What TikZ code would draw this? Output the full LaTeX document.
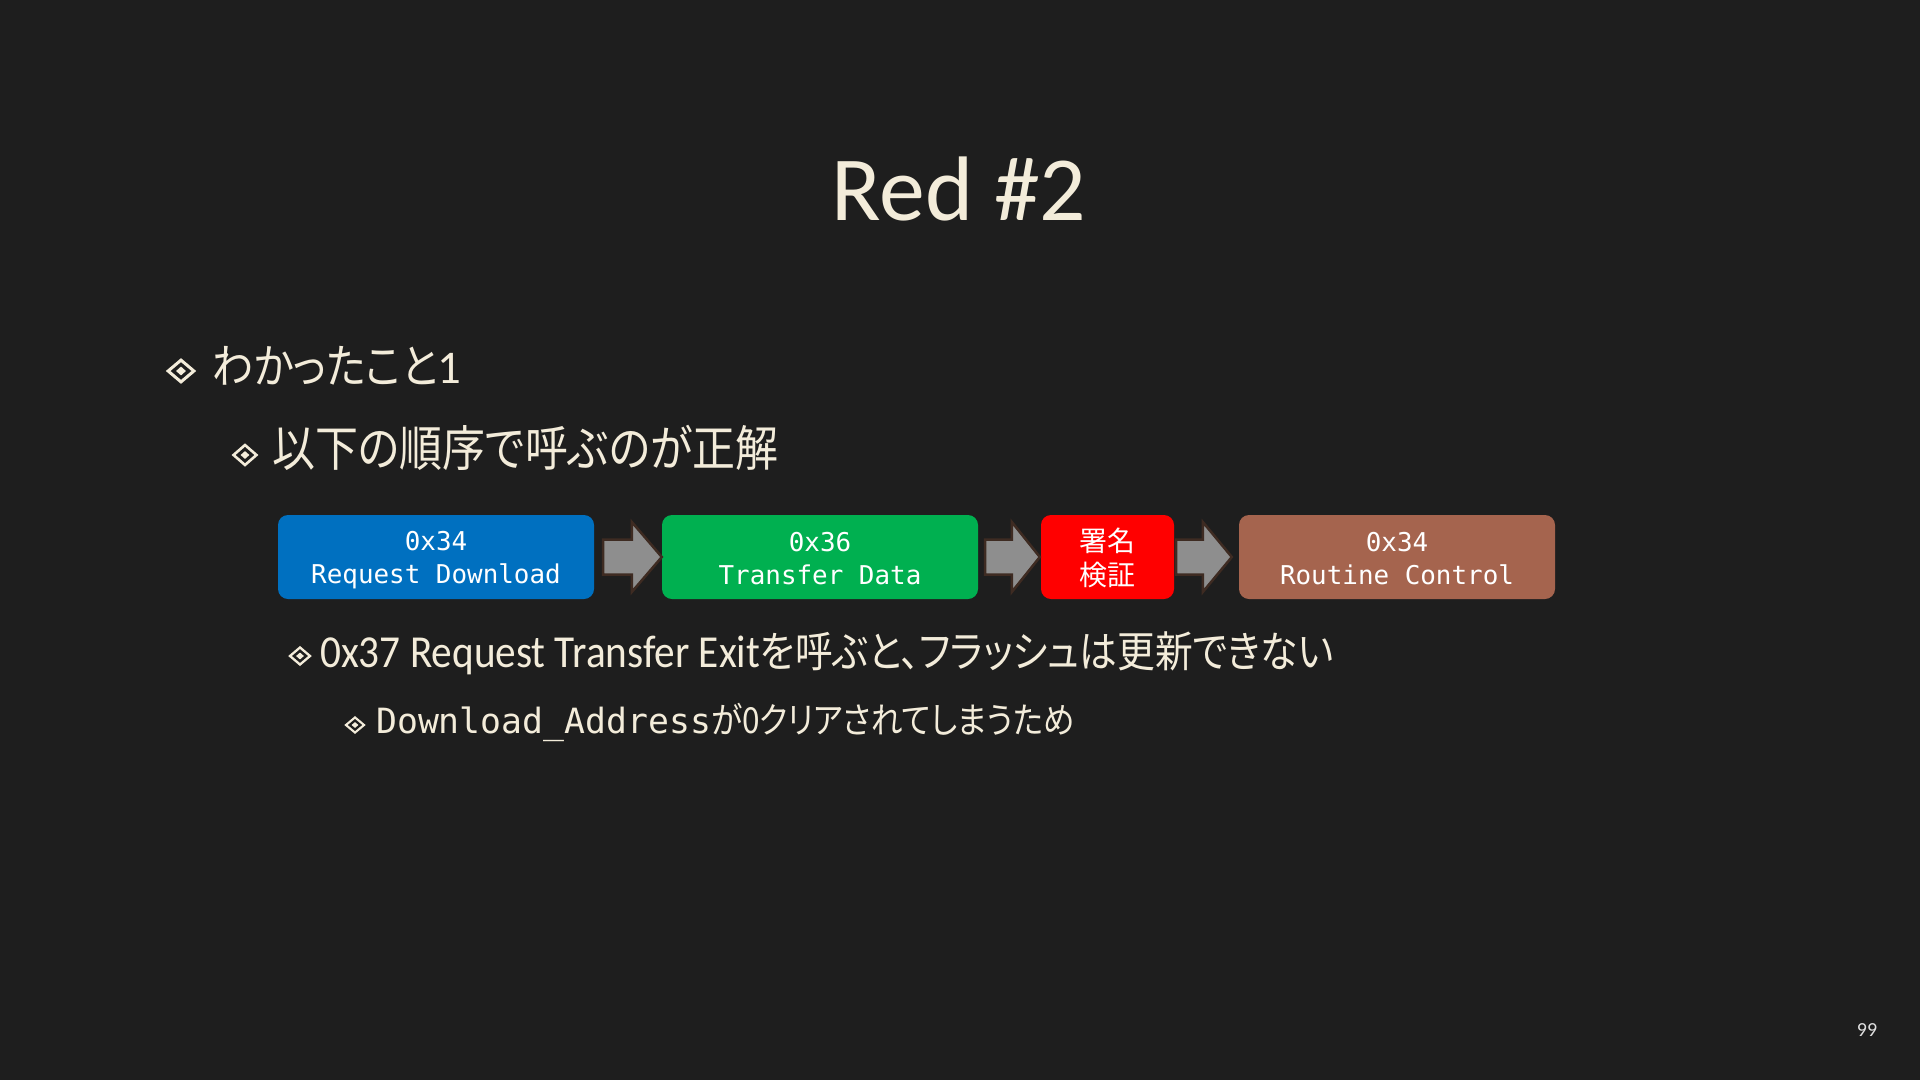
\documentclass[tikz,border=0pt]{standalone}
\usepackage{fontspec}
\usetikzlibrary{calc,shapes.geometric}
\setmainfont{Carlito}
\newfontfamily\jp[RawFeature=+palt,FakeStretch=0.88]{Noto Sans CJK JP}
\newfontfamily\jpbox{Noto Sans CJK JP}
\newfontfamily\lat[FakeStretch=0.9]{Carlito}
\newfontfamily\mono{DejaVu Sans Mono}
\definecolor{bg}{HTML}{1E1E1E}
\definecolor{cream}{HTML}{F3ECDA}
\definecolor{bblue}{HTML}{0070C0}
\definecolor{bgreen}{HTML}{00B050}
\definecolor{bred}{HTML}{FF0000}
\definecolor{bbrown}{HTML}{A5644E}
\definecolor{arrfill}{HTML}{8E8E8E}
\definecolor{arrline}{HTML}{3E2B22}
\tikzset{
  txt/.style={text=cream, inner sep=0pt, anchor=base west},
  bulout/.style={diamond, draw=cream, line width=#1, inner sep=0pt},
  bulin/.style={diamond, fill=cream, inner sep=0pt},
  box/.style={rounded corners=10bp, minimum height=84bp, inner sep=0pt},
  boxtext/.style={inner sep=0pt, text=white, align=center, font=\mono\fontsize{26}{33}\selectfont},
  arr/.style={fill=arrfill, draw=arrline, line width=2.5bp, line join=miter},
}
\newcommand\fatarrow[5]{% from, to, tail offset, tip offset, head length
  \path (#1.east) ++(#3,0) coordinate (#1-t) (#2.west) ++(-#4,0) coordinate (#1-h);
  \draw[arr] ($(#1-t)+(0,-17.5)$) -- ($(#1-h)+(-#5,-17.5)$) -- ($(#1-h)+(-#5,-35)$) -- (#1-h)
     -- ($(#1-h)+(-#5,35)$) -- ($(#1-h)+(-#5,17.5)$) -- ($(#1-t)+(0,17.5)$) -- cycle;}
\begin{document}
\begin{tikzpicture}[x=1bp,y=-1bp]
\fill[bg] (0,0) rectangle (1920,1080);
\useasboundingbox (0,0) rectangle (1920,1080);

% title
\node[text=cream, inner sep=0pt, anchor=base, font=\fontsize{92}{110}\selectfont] (title) at (959,220) {Red \#2};

% level 1
\node[bulout=3bp, minimum width=27bp, minimum height=23bp] (b1o) at (181,371) {};
\node[bulin, minimum width=10bp, minimum height=9bp] (b1i) at (b1o.center) {};
\node[txt, font=\fontsize{47}{56}\selectfont] (t1) at (212,383) {{\jp わかったこと}1};

% level 2
\node[bulout=2.6bp, minimum width=24bp, minimum height=21bp] (b2o) at (245,455) {};
\node[bulin, minimum width=9bp, minimum height=8bp] (b2i) at (b2o.center) {};
\node[txt, font=\jp\fontsize{49}{58}\selectfont] (t2) at (272,466) {以下の順序で呼ぶのが正解};

% boxes
\node[box, fill=bblue, minimum width=316bp] (n1) at (436,557) {};
\node[box, fill=bgreen, minimum width=316bp] (n2) at (820,557) {};
\node[box, fill=bred, minimum width=133bp] (n3) at (1107.5,557) {};
\node[box, fill=bbrown, minimum width=316bp] (n4) at (1397,557) {};
\node[boxtext] (n1t) at ($(n1.center)+(0,3)$) {0x34\\Request Download};
\node[boxtext] (n2t) at ($(n2.center)+(0,2)$) {0x36\\Transfer Data};
\node[boxtext, font=\jpbox\fontsize{28}{34}\selectfont] (n3t) at ($(n3.center)+(0,1)$) {署名\\検証};
\node[boxtext] (n4t) at ($(n4.center)+(0,2)$) {0x34\\Routine Control};

\fatarrow{n1}{n2}{9}{0}{30}
\fatarrow{n2}{n3}{7}{1}{28}
\fatarrow{n3}{n4}{2}{7}{29}

% level 3
\node[bulout=2.3bp, minimum width=21bp, minimum height=18bp] (b3o) at (300,656) {};
\node[bulin, minimum width=8bp, minimum height=7bp] (b3i) at (b3o.center) {};
\node[txt] (t3) at (320,667) {{\lat\fontsize{46}{56}\selectfont 0x37 Request Transfer Exit}{\jp\fontsize{43}{56}\selectfont を呼ぶと、フラッシュは更新できない}};

% level 4
\node[bulout=2.1bp, minimum width=19bp, minimum height=16bp] (b4o) at (355,725) {};
\node[bulin, minimum width=7bp, minimum height=6bp] (b4i) at (b4o.center) {};
\node[txt] (t4) at (376,733) {{\mono\fontsize{34.9}{42}\selectfont Download\_Address}{\jp\fontsize{36}{44}\selectfont が0クリアされてしまうため}};

% page number
\node[text=white!88!black, inner sep=0pt, font=\fontsize{20}{24}\selectfont] (pg) at (1867,1030) {99};
\end{tikzpicture}
\end{document}
